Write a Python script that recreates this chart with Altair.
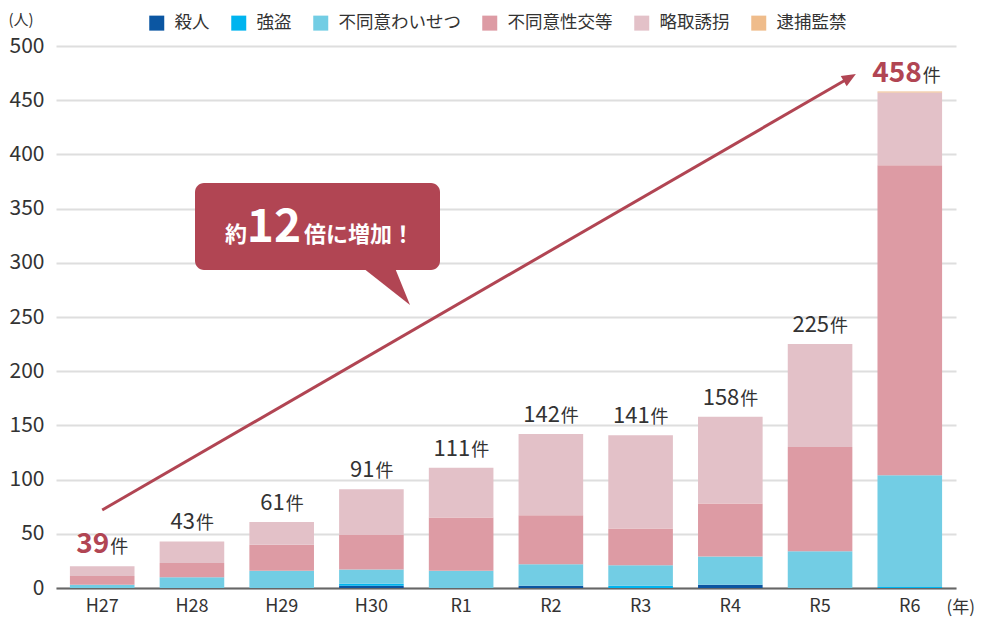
import altair as alt
import pandas as pd

# ---------------- data ----------------
years = ["H27", "H28", "H29", "H30", "R1", "R2", "R3", "R4", "R5", "R6"]
crimes = ["殺人", "強盗", "不同意わいせつ", "不同意性交等", "略取誘拐", "逮捕監禁"]
crime_colors = ["#0b56a2", "#00b4ef", "#72cde4", "#dd9ba4", "#e3c1c8", "#efbc8b"]

murder = [0, 0, 0, 2, 0, 2, 0, 3, 0, 0]
robbery = [0, 0, 0, 2, 0, 0, 2, 0, 0, 1]
indecent = [3, 10, 16, 13, 16, 20, 19, 26, 34, 103]
rape = [8, 13, 24, 32, 49, 45, 34, 49, 96, 286]
kidnap = [9, 20, 21, 42, 46, 75, 86, 80, 95, 67]
confine = [0, 0, 0, 0, 0, 0, 0, 0, 0, 1]

total_labels = [39, 43, 61, 91, 111, 142, 141, 158, 225, 458]
highlight_years = ["H27", "R6"]
y_ticks = [0, 50, 100, 150, 200, 250, 300, 350, 400, 450, 500]

callout_text = ["約", "12", "倍に増加！"]

ACCENT = "#b14553"
FONT = "Noto Sans CJK JP"
TXT = "#333333"

series = [murder, robbery, indecent, rape, kidnap, confine]
rows = []
for ci, (name, vals) in enumerate(zip(crimes, series)):
    for yr, v in zip(years, vals):
        rows.append({"year": yr, "crime": name, "value": v, "ord": ci})
df = pd.DataFrame(rows)

tops = [sum(s[i] for s in series) for i in range(len(years))]
tot = pd.DataFrame({
    "year": years,
    "top": tops,
    "label": [str(v) for v in total_labels],
    "digits": [len(str(v)) for v in total_labels],
    "hl": [y in highlight_years for y in years],
})

x_scale = alt.Scale(paddingInner=0.28, paddingOuter=0.155)
y_scale = alt.Scale(domain=[0, 500])

X_AXIS = alt.Axis(title="(年)", labelAngle=0, labelFontSize=18, labelColor=TXT,
                  labelPadding=9, ticks=False, domainColor="#666666", domainWidth=2,
                  grid=False, titleX=890, titleY=19, titleAlign="left",
                  titleBaseline="middle", titleFontSize=17, titleFontWeight="normal",
                  titleColor=TXT)
Y_AXIS = alt.Axis(values=y_ticks, title="(人)", titleAngle=0, titleX=-48, titleY=-27,
                  titleAlign="left", titleBaseline="middle", titleFontSize=15,
                  titleFontWeight="normal", titleColor=TXT, grid=True,
                  gridColor="#dedede", gridWidth=2, domain=False, ticks=False,
                  labelFontSize=21, labelColor=TXT, labelPadding=12)

# ---------------- bars ----------------
bars = alt.Chart(df).mark_bar().encode(
    x=alt.X("year:N", sort=years, scale=x_scale, axis=X_AXIS),
    y=alt.Y("value:Q", stack="zero", scale=y_scale, axis=Y_AXIS),
    color=alt.Color("crime:N", scale=alt.Scale(domain=crimes, range=crime_colors),
                    legend=alt.Legend(title=None, orient="none", direction="horizontal",
                                      legendX=92, legendY=-32, symbolType="square",
                                      symbolSize=225, symbolStrokeWidth=0, labelFontSize=17.5,
                                      labelColor=TXT, labelOffset=9, columnPadding=20,
                                      padding=0)),
    order=alt.Order("ord:Q", sort="ascending"),
)

# ---------------- total labels ----------------
def label_layers(sub, dx, num_size, num_weight, num_color, dy):
    base = alt.Chart(sub).encode(
        x=alt.X("year:N", sort=years, scale=x_scale, axis=X_AXIS),
        y=alt.Y("top:Q", scale=y_scale, axis=Y_AXIS),
    )
    num = base.mark_text(align="right", baseline="alphabetic", dx=dx, dy=dy,
                         fontSize=num_size, fontWeight=num_weight, color=num_color).encode(
        text="label:N")
    ken = base.mark_text(align="left", baseline="alphabetic", dx=dx + 1, dy=dy,
                         fontSize=18, color=TXT, text="件")
    return [num, ken]

lbl_layers = []
lbl_layers += label_layers(tot[(~tot.hl) & (tot.digits == 2)], 3, 22, "normal", TXT, -12)
lbl_layers += label_layers(tot[(~tot.hl) & (tot.digits == 3)], 9, 22, "normal", TXT, -12)
lbl_layers += label_layers(tot[(tot.hl) & (tot.digits == 2)], 7, 28, "bold", ACCENT, -13)
lbl_layers += label_layers(tot[(tot.hl) & (tot.digits == 3)], 12, 28, "bold", ACCENT, -10)

# ---------------- arrow ----------------
arrow_df = pd.DataFrame({"x": ["H27"], "x2": ["R6"], "y": [72.0], "y2": [470.9]})
arrow = alt.Chart(arrow_df).mark_rule(color=ACCENT, strokeWidth=3, x2Offset=-60).encode(
    x=alt.X("x:N", sort=years, scale=x_scale, axis=X_AXIS),
    x2="x2:N",
    y=alt.Y("y:Q", scale=y_scale, axis=Y_AXIS),
    y2="y2:Q",
)
head_df = pd.DataFrame({"x": ["R6"], "y": [470.9]})
head = alt.Chart(head_df).mark_point(
    shape="M 1 0 L -1 -0.85 L -1 0.85 Z", filled=True, fill=ACCENT, opacity=1,
    size=196, angle=330, xOffset=-60, strokeWidth=0,
).encode(
    x=alt.X("x:N", sort=years, scale=x_scale, axis=X_AXIS),
    y=alt.Y("y:Q", scale=y_scale, axis=Y_AXIS),
)

# ---------------- callout bubble ----------------
bub_df = pd.DataFrame({"y": [373.6], "y2": [293.4]})
bubble = alt.Chart(bub_df).mark_rect(color=ACCENT, cornerRadius=9).encode(
    x=alt.value(139), x2=alt.value(384),
    y=alt.Y("y:Q", scale=y_scale, axis=Y_AXIS), y2="y2:Q",
)
tail_df = pd.DataFrame({"y": [277.7]})
tail = alt.Chart(tail_df).mark_point(
    shape="M -0.92 -0.76 L 0.36 -0.76 L 0.96 0.72 Z", filled=True, fill=ACCENT,
    opacity=1, size=2500, strokeWidth=0,
).encode(x=alt.value(330), y=alt.Y("y:Q", scale=y_scale, axis=Y_AXIS))

txt_df = pd.DataFrame({"y": [319.2]})
tbase = alt.Chart(txt_df).encode(y=alt.Y("y:Q", scale=y_scale, axis=Y_AXIS))
t1 = tbase.mark_text(text=callout_text[0], align="right", baseline="alphabetic", fontSize=22,
                     fontWeight="bold", color="white").encode(x=alt.value(191))
t2 = tbase.mark_text(text=callout_text[1], align="center", baseline="alphabetic", fontSize=46,
                     fontWeight="bold", color="white").encode(x=alt.value(218))
t3 = tbase.mark_text(text=callout_text[2], align="left", baseline="alphabetic", fontSize=22,
                     fontWeight="bold", color="white").encode(x=alt.value(248))

chart = alt.layer(bars, *lbl_layers, arrow, head, bubble, tail, t1, t2, t3).properties(
    width=900, height=542,
    padding={"left": 48, "top": 38, "right": 20, "bottom": 32},
    autosize=alt.AutoSizeParams(type="none"),
    background="white",
).configure(font=FONT).configure_view(strokeWidth=0).configure_axis(
    labelFont=FONT, titleFont=FONT
).configure_legend(labelFont=FONT).configure_text(font=FONT)

chart.save("out.html", embed_options={"renderer": "svg", "actions": False})
